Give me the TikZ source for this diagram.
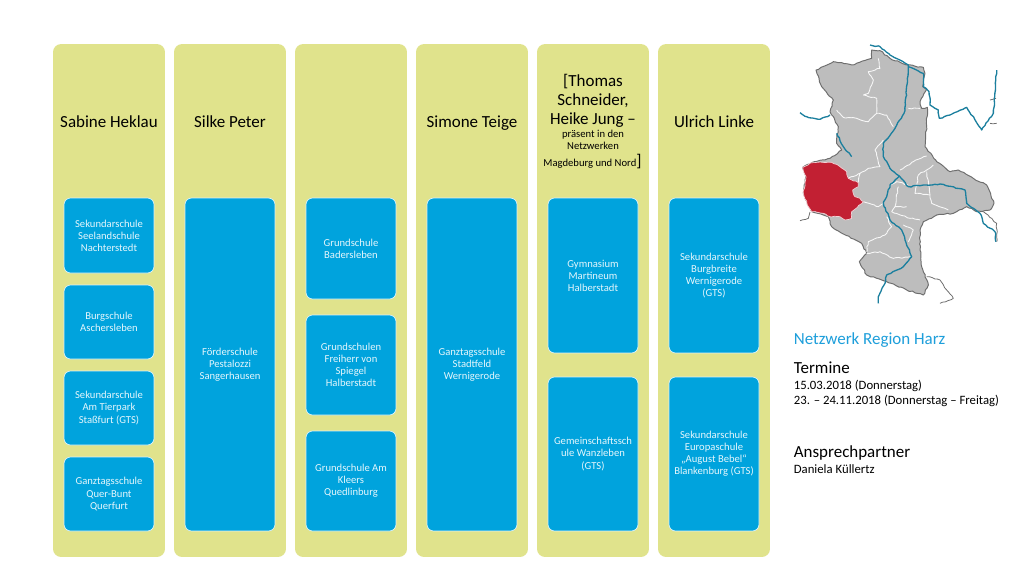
\documentclass[tikz,border=0pt]{standalone}
\usepackage{fontspec}
\setmainfont{Carlito}
\usetikzlibrary{decorations.pathmorphing}
\definecolor{colgreen}{HTML}{E0E38C}
\definecolor{boxblue}{HTML}{00A3DD}
\definecolor{mapgrey}{HTML}{BDBDBD}
\definecolor{mapedge}{HTML}{6E6E6E}
\definecolor{mapred}{HTML}{C22033}
\definecolor{river}{HTML}{1B7F9E}
\definecolor{titleblue}{HTML}{1E9FDB}
\newcommand{\headsize}{\fontsize{9.65pt}{10.8pt}\selectfont}
\newcommand{\boxsize}{\fontsize{6.05pt}{6.9pt}\selectfont}
\newcommand{\sidesize}{\fontsize{7.25pt}{8.8pt}\selectfont}
\tikzset{
  col/.style={fill=colgreen, rounded corners=0.16cm, minimum width=2.24cm, minimum height=10.26cm, inner sep=0pt},
  head/.style={anchor=base, align=center, inner sep=0pt, font=\headsize},
  schoolbox/.style={fill=boxblue, draw=white!85!boxblue, line width=0.4pt, rounded corners=0.13cm, minimum width=1.8cm, inner sep=0pt, align=center, text=white!90!boxblue, font=\boxsize},
  sidetext/.style={anchor=base west, inner sep=0pt},
  wiggle/.style={decorate, decoration={random steps, segment length=1.6pt, amplitude=0.35pt}},
  riverline/.style={wiggle, draw=river, line width=0.75pt, line join=round},
  border/.style={wiggle, draw=white!88!mapgrey, line width=0.5pt, line join=round},
  outside/.style={wiggle, draw=mapedge, line width=0.45pt, line join=round}
}
\begin{document}
\begin{tikzpicture}[x=0.02cm,y=-0.02cm]
  \pgfmathsetseed{7}
  \useasboundingbox[fill=white] (0,0) rectangle (1024,576);

  % columns
  \node[col] (sabine) at (109,300.5) {};
  \node[col] (silke) at (230,300.5) {};
  \node[col] (empty) at (351,300.5) {};
  \node[col] (simone) at (472,300.5) {};
  \node[col] (thomas) at (593,300.5) {};
  \node[col] (ulrich) at (714,300.5) {};

  \node[head] (sabinehead) at (109,127) {Sabine Heklau};
  \node[head] (silkehead) at (230,127) {Silke Peter};
  \node[head] (simonehead) at (472,127) {Simone Teige};
  \node[head] (ulrichhead) at (714,127) {Ulrich Linke};
  \node[head] (thomashead) at (593,86) {[Thomas};
  \node[head] (thomashead2) at (593,105) {Schneider,};
  \node[head] (thomashead3) at (593,124) {Heike Jung --};
  \node[head, font=\boxsize] (thomasnote) at (593,137) {präsent in den};
  \node[head, font=\boxsize] (thomasnote2) at (593,149) {Netzwerken};
  \node[head, font=\boxsize] (thomasnote3) at (592.5,166) {Magdeburg und Nord\headsize ]};

  % schools
  \node[schoolbox, minimum height=1.5cm] (seeland) at (109,235.5) {Sekundarschule\\Seelandschule\\Nachterstedt};
  \node[schoolbox, minimum height=1.48cm] (burg) at (109,322) {Burgschule\\Aschersleben};
  \node[schoolbox, minimum height=1.48cm] (tierpark) at (109,408) {Sekundarschule\\Am Tierpark\\Staßfurt (GTS)};
  \node[schoolbox, minimum height=1.48cm] (querbunt) at (109,494) {Ganztagsschule\\Quer-Bunt\\Querfurt};

  \node[schoolbox, minimum height=6.66cm] (pestalozzi) at (230,364.5) {Förderschule\\Pestalozzi\\Sangerhausen};

  \node[schoolbox, minimum height=2.02cm] (badersleben) at (351,248.5) {Grundschule\\Badersleben};
  \node[schoolbox, minimum height=2cm] (spiegel) at (351,365) {Grundschulen\\Freiherr von\\Spiegel\\Halberstadt};
  \node[schoolbox, minimum height=2cm] (kleers) at (351,481) {Grundschule Am\\Kleers\\Quedlinburg};

  \node[schoolbox, minimum height=6.66cm] (stadtfeld) at (472,364.5) {Ganztagsschule\\Stadtfeld\\Wernigerode};

  \node[schoolbox, minimum height=3.1cm] (martineum) at (593,275.5) {Gymnasium\\Martineum\\Halberstadt};
  \node[schoolbox, minimum height=3.08cm] (wanzleben) at (593,454) {Gemeinschaftssch\\ule Wanzleben\\(GTS)};

  \node[schoolbox, minimum height=3.1cm] (burgbreite) at (714,275.5) {Sekundarschule\\Burgbreite\\Wernigerode\\(GTS)};
  \node[schoolbox, minimum height=3.08cm] (bebel) at (714,454) {Sekundarschule\\Europaschule\\„August Bebel“\\Blankenburg (GTS)};

  % side text
  \node[sidetext, text=titleblue, font=\headsize] (netzwerk) at (793.5,344) {Netzwerk Region Harz};
  \node[sidetext, font=\headsize] (termine) at (793.5,373) {Termine};
  \node[sidetext, font=\sidesize] (date1) at (793.5,389) {15.03.2018 (Donnerstag)};
  \node[sidetext, font=\sidesize] (date2) at (793.5,404.5) {23. -- 24.11.2018 (Donnerstag -- Freitag)};
  \node[sidetext, font=\headsize] (ansprech) at (793.5,457) {Ansprechpartner};
  \node[sidetext, font=\sidesize] (daniela) at (793.5,473) {Daniela Küllertz};

  % map
  \begin{scope}[shift={(780,30)},scale=1/3]
    \draw[outside] (60,572) -- (85,565) -- (90,546);
    \draw[outside] (440,740) -- (480,750) -- (500,780) -- (520,805) -- (480,820);
    \draw[outside] (630,210) -- (648,205);
    \draw[outside] (630,280) -- (650,280);
    \draw[outside] (610,545) -- (650,580) -- (650,635);
    \draw[wiggle, fill=mapgrey, draw=mapedge, line width=0.55pt, line join=round] (275,60) -- (300,62) -- (330,85) -- (380,105) -- (430,112) -- (435,130) -- (428,170) -- (440,178) -- (420,215) -- (425,235) -- (442,232) -- (440,290) -- (435,350) -- (470,395) -- (510,425) -- (535,420) -- (580,445) -- (620,465) -- (642,520) -- (630,540) -- (590,545) -- (560,530) -- (520,550) -- (470,555) -- (430,575) -- (420,600) -- (420,660) -- (425,710) -- (445,765) -- (430,795) -- (380,780) -- (320,755) -- (260,735) -- (238,695) -- (260,670) -- (245,640) -- (190,612) -- (155,590) -- (145,560) -- (95,545) -- (70,490) -- (78,440) -- (68,412) -- (95,398) -- (150,385) -- (185,360) -- (170,340) -- (175,290) -- (150,245) -- (160,210) -- (125,170) -- (108,120) -- (160,95) -- (215,105) -- (275,85) -- cycle;
    \draw[border] (295,85) -- (300,115) -- (265,125) -- (280,150) -- (265,190) -- (250,195) -- (290,205) -- (290,250) -- (265,275) -- (230,265) -- (190,262) -- (170,240);
    \draw[border] (290,250) -- (320,255) -- (340,290);
    \draw[border] (385,235) -- (420,235);
    \draw[border] (360,420) -- (400,395) -- (440,378);
    \draw[border] (240,430) -- (265,415) -- (300,410) -- (285,360) -- (310,330);
    \draw[border] (205,445) -- (240,430) -- (235,458);
    \draw[border] (250,515) -- (295,530) -- (310,520);
    \draw[border] (330,465) -- (350,455) -- (385,465);
    \draw[border] (355,470) -- (345,530) -- (335,545) -- (390,565) -- (420,570);
    \draw[border] (345,530) -- (380,530);
    \draw[border] (460,405) -- (415,435) -- (405,490) -- (450,495) -- (455,520) -- (505,540);
    \draw[border] (440,425) -- (450,495);
    \draw[border] (320,560) -- (335,590) -- (315,615) -- (265,635) -- (260,665);
    \draw[border] (260,670) -- (300,665) -- (340,685) -- (395,680);
    \draw[border] (370,585) -- (400,600) -- (385,635);
    \draw[wiggle, fill=mapred, draw=white!80!mapred, line width=0.4pt, line join=round] (68,412) -- (95,398) -- (155,397) -- (180,410) -- (200,425) -- (205,445) -- (235,458) -- (235,470) -- (218,480) -- (225,500) -- (240,505) -- (250,515) -- (215,545) -- (215,565) -- (195,570) -- (180,560) -- (150,560) -- (130,550) -- (95,545) -- (85,530) -- (70,490) -- (78,440) -- cycle;
    \draw[riverline] (270,45) -- (300,50) -- (330,75) -- (385,105) -- (385,120) -- (378,200) -- (372,250) -- (345,295) -- (310,340) -- (310,380) -- (330,415) -- (358,438) -- (330,465) -- (320,500) -- (310,520) -- (330,570) -- (365,600) -- (375,630) -- (395,680) -- (370,710) -- (320,735) -- (315,760) -- (295,800) -- (295,820);
    \draw[riverline] (385,110) -- (430,130) -- (430,170) -- (447,185) -- (450,225) -- (475,240) -- (478,265) -- (510,255) -- (560,232) -- (605,300) -- (640,250) -- (650,120);
    \draw[riverline] (358,438) -- (385,470) -- (430,465) -- (480,462) -- (555,480) -- (560,520) -- (600,550) -- (610,580) -- (645,605) -- (648,635);
    \draw[riverline] (60,248) -- (80,260) -- (120,268) -- (150,255);
    \draw[riverline] (170,310) -- (190,350) -- (215,380);
  \end{scope}
\end{tikzpicture}
\end{document}
